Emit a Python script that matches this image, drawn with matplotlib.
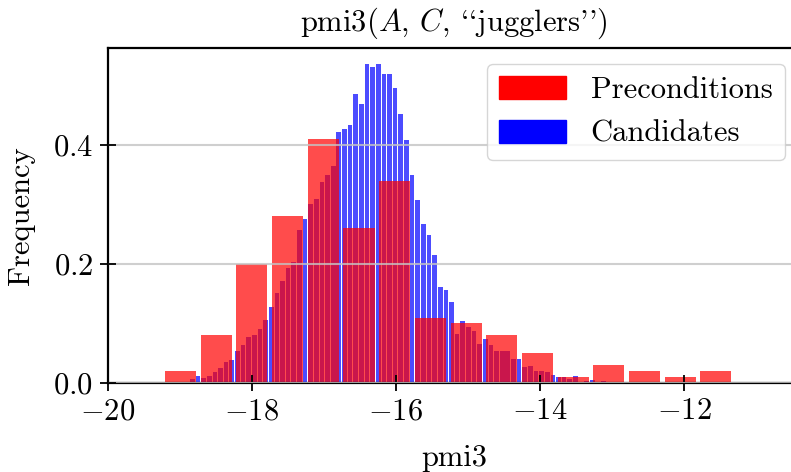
import numpy as np
import matplotlib
matplotlib.use('Agg')
import matplotlib.pyplot as plt
from matplotlib.patches import Patch

plt.rcParams['font.family'] = ['cmr10', 'DejaVu Serif']
plt.rcParams['mathtext.fontset'] = 'cm'
plt.rcParams['axes.formatter.use_mathtext'] = True
plt.rcParams['axes.unicode_minus'] = True

# histogram of candidates (density), narrow bins
cand_start = -19.100
cand_binw = 0.07822
cand_freq = [0.002, 0, 0.002, 0.007, 0.011, 0.009, 0.012, 0.019, 0.026, 0.036,
             0.039, 0.053, 0.064, 0.078, 0.080, 0.091, 0.106, 0.127, 0.152, 0.171,
             0.193, 0.203, 0.257, 0.276, 0.301, 0.309, 0.338, 0.350, 0.365, 0.422,
             0.427, 0.434, 0.486, 0.469, 0.536, 0.531, 0.536, 0.519, 0.519, 0.496,
             0.452, 0.408, 0.350, 0.308, 0.267, 0.249, 0.215, 0.161, 0.156, 0.136,
             0.082, 0.104, 0.094, 0.087, 0.066, 0.074, 0.064, 0.054, 0.054, 0.054,
             0.040, 0.040, 0.027, 0.029, 0.020, 0.020, 0.018, 0.013, 0.010, 0.010,
             0.007, 0.012, 0, 0.003, 0.005, 0, 0.003]

# histogram of preconditions (density), wide bins
prec_start = -19.238
prec_binw = 0.4956
prec_freq = [0.02, 0.08, 0.20, 0.28, 0.41, 0.26, 0.34, 0.11,
             0.10, 0.08, 0.05, 0.01, 0.03, 0.02, 0.01, 0.02]

xticks = [-20, -18, -16, -14, -12]
yticks = [0.0, 0.2, 0.4]

cand_edges = cand_start + cand_binw * np.arange(len(cand_freq))
prec_edges = prec_start + prec_binw * np.arange(len(prec_freq))

fig = plt.figure(figsize=(7.91, 4.72), dpi=100)
ax = fig.add_axes([0.1363, 0.1886, 0.875, 0.7087])

rw_c = 0.83
rw_p = 0.87
ax.bar(cand_edges + cand_binw * (1 - rw_c) / 2, cand_freq, width=cand_binw * rw_c,
       align='edge', color='blue', alpha=0.7, linewidth=0)
ax.bar(prec_edges + prec_binw * (1 - rw_p) / 2, prec_freq, width=prec_binw * rw_p,
       align='edge', color='red', alpha=0.7, linewidth=0)

ax.set_xlim(-20, -10.39)
ax.set_ylim(0, 0.562)
ax.set_xticks(xticks)
ax.set_yticks(yticks)
ax.set_axisbelow(False)
ax.yaxis.grid(True, color='#c4c4c4', linewidth=1.5, alpha=0.8)

for s in ax.spines.values():
    s.set_linewidth(1.6)
ax.tick_params(direction='inout', length=11, width=1.3, labelsize=22, pad=5)

ax.set_title("pmi3($A$, $C$, ``jugglers'')", fontsize=22, pad=13)
ax.set_xlabel('pmi3', fontsize=22, labelpad=14)
ax.set_ylabel('Frequency', fontsize=22, labelpad=13)

handles = [Patch(color='red', label='Preconditions'),
           Patch(color='blue', label='Candidates')]
ax.legend(handles=handles, loc='upper right', fontsize=22,
          handlelength=2.2, handleheight=0.8, borderaxespad=0.5)

fig.savefig('out.png', dpi=100)
